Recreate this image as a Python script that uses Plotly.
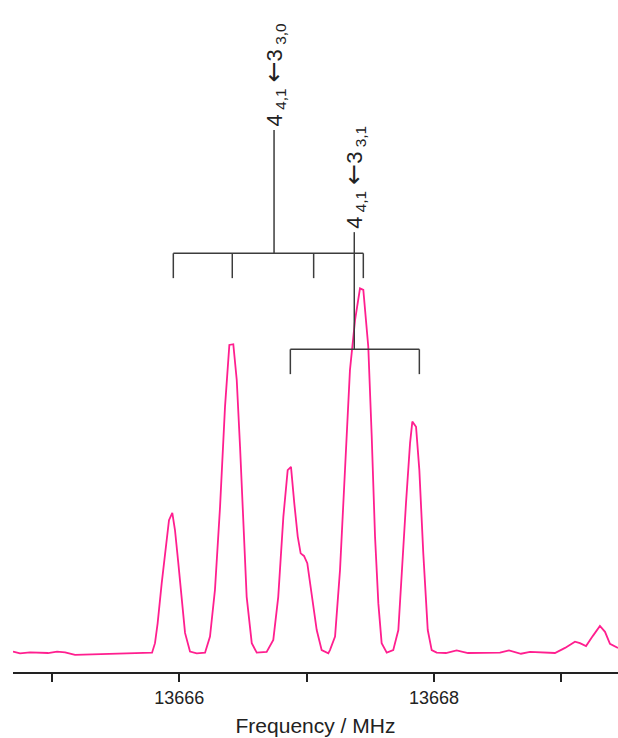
import plotly.graph_objects as go

# Spectrum (frequency in MHz, intensity in arbitrary units)
freq = [13664.694, 13664.749, 13664.828, 13664.969, 13665.040, 13665.103, 13665.181,
        13665.299, 13665.456, 13665.691, 13665.786,
        13665.809, 13665.830, 13665.862, 13665.888, 13665.919, 13665.945, 13665.966,
        13665.992, 13666.019, 13666.045, 13666.084, 13666.137, 13666.202,
        13666.241, 13666.280, 13666.320, 13666.359, 13666.393, 13666.424, 13666.451,
        13666.477, 13666.503, 13666.529, 13666.569, 13666.608, 13666.686,
        13666.738, 13666.777, 13666.817, 13666.851, 13666.877, 13666.903, 13666.930,
        13666.953, 13666.979, 13667.005, 13667.040, 13667.079, 13667.118, 13667.170,
        13667.183, 13667.223, 13667.262, 13667.301, 13667.340, 13667.380, 13667.419,
        13667.445, 13667.484, 13667.511, 13667.537, 13667.563, 13667.589, 13667.629,
        13667.680, 13667.720, 13667.746, 13667.780, 13667.812, 13667.830, 13667.859,
        13667.885, 13667.916, 13667.951, 13667.982, 13668.021,
        13668.094, 13668.178, 13668.267, 13668.361, 13668.518, 13668.589, 13668.683,
        13668.754, 13668.950, 13669.029, 13669.107, 13669.146, 13669.194, 13669.248,
        13669.303, 13669.343, 13669.382, 13669.445]
intensity = [0.004, -0.001, 0.002, 0.000, 0.004, 0.002, -0.005,
             -0.004, -0.003, -0.001, 0.001,
             0.027, 0.082, 0.192, 0.264, 0.364, 0.384, 0.337,
             0.247, 0.137, 0.055, 0.004, -0.001, 0.001,
             0.045, 0.173, 0.401, 0.675, 0.844, 0.846, 0.748,
             0.565, 0.337, 0.154, 0.027, 0.001, 0.003,
             0.036, 0.154, 0.373, 0.501, 0.510, 0.410, 0.319,
             0.273, 0.266, 0.246, 0.164, 0.063, 0.008, -0.001,
             0.008, 0.045, 0.227, 0.501, 0.775, 0.912, 0.999,
             0.995, 0.839, 0.593, 0.319, 0.136, 0.027, 0.001,
             0.008, 0.063, 0.227, 0.410, 0.575, 0.634, 0.620,
             0.501, 0.273, 0.063, 0.008, 0.001,
             0.000, 0.007, 0.000, 0.001, 0.001, 0.007, -0.002,
             0.003, 0.000, 0.014, 0.031, 0.027, 0.019, 0.047,
             0.074, 0.058, 0.025, 0.014]

# Hyperfine stick patterns
quartet_lines = [13665.953, 13666.416, 13667.055, 13667.445]
quartet_center = 13666.744
doublet_lines = [13666.872, 13667.885]
doublet_center = 13667.374

tick_vals = [13665, 13666, 13667, 13668, 13669]
tick_text = ["", "13666", "", "13668", ""]

NB = "\u00a0"
ARROW = '<span style="font-family:DejaVu Sans;font-size:25px">\u2190</span>'
label_quartet = "4<sub>" + NB + "4,1</sub>" + NB + ARROW + "3<sub>" + NB + "3,0</sub>"
label_doublet = "4<sub>" + NB + "4,1</sub>" + NB + ARROW + "3<sub>" + NB + "3,1</sub>"

FONT = "Arial, Liberation Sans, sans-serif"
PINK = "#ff1f8f"
STICK = "#3c3c3c"


def stick_xy(lines, center, bar, foot, top):
    xs, ys = [], []
    xs += [min(lines), max(lines), None]
    ys += [bar, bar, None]
    for f in lines:
        xs += [f, f, None]
        ys += [bar, foot, None]
    xs += [center, center, None]
    ys += [bar, top, None]
    return xs, ys


fig = go.Figure()
fig.add_trace(go.Scatter(x=freq, y=intensity, mode="lines",
                         line=dict(color=PINK, width=1.8), showlegend=False,
                         hoverinfo="skip"))

qx, qy = stick_xy(quartet_lines, quartet_center, 1.095, 1.027, 1.433)
dx, dy = stick_xy(doublet_lines, doublet_center, 0.832, 0.764, 1.153)
fig.add_trace(go.Scatter(x=qx, y=qy, mode="lines", line=dict(color=STICK, width=1.5),
                         showlegend=False, hoverinfo="skip"))
fig.add_trace(go.Scatter(x=dx, y=dy, mode="lines", line=dict(color=STICK, width=1.5),
                         showlegend=False, hoverinfo="skip"))

fig.add_annotation(x=quartet_center, y=1.436, xref="x", yref="y", text=label_quartet,
                   textangle=-90, showarrow=False, xanchor="center", yanchor="bottom",
                   font=dict(family=FONT, size=22, color="#222222"))
fig.add_annotation(x=doublet_center, y=1.156, xref="x", yref="y", text=label_doublet,
                   textangle=-90, showarrow=False, xanchor="center", yanchor="bottom",
                   font=dict(family=FONT, size=22, color="#222222"))

fig.update_layout(
    width=618, height=738,
    margin=dict(l=13, r=0, t=0, b=66),
    paper_bgcolor="white", plot_bgcolor="white",
    font=dict(family=FONT, color="#222222"),
    xaxis=dict(range=[13664.694, 13669.445], showgrid=False, zeroline=False,
               showline=True, linecolor="#222222", linewidth=2,
               ticks="outside", ticklen=8, tickwidth=1.5, tickcolor="#222222",
               tickvals=tick_vals, ticktext=tick_text,
               tickfont=dict(size=18, family=FONT, color="#222222"),
               title=dict(text="Frequency / MHz", font=dict(size=21, family=FONT, color="#222222"),
                          standoff=12),
               automargin=False),
    yaxis=dict(range=[-0.052, 1.789], visible=False, showgrid=False, zeroline=False),
)

fig.write_html("out.html", config={"displayModeBar": False},
               post_script="document.body.style.margin='0px';document.body.style.overflow='hidden';")
